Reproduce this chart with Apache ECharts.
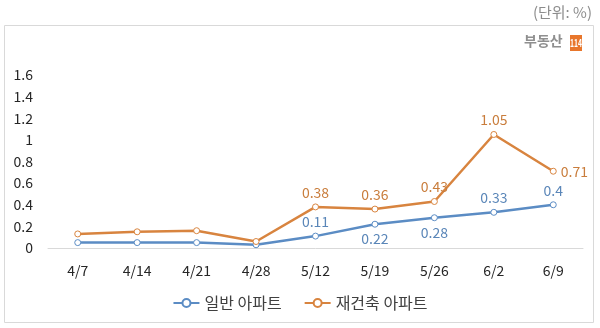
<!DOCTYPE html>
<html>
<head>
<meta charset="utf-8">
<script src="https://cdn.jsdelivr.net/npm/echarts@6/dist/echarts.min.js"></script>
<style>
  html, body { margin: 0; padding: 0; background: #fff; }
  #chart { width: 600px; height: 328px; }
</style>
</head>
<body>
<div id="chart"></div>
<script>
// Weekly apartment price change rates (%)
const weeks = ['4/7', '4/14', '4/21', '4/28', '5/12', '5/19', '5/26', '6/2', '6/9'];
const generalApt = [0.05, 0.05, 0.05, 0.03, 0.11, 0.22, 0.28, 0.33, 0.4];
const rebuildApt = [0.13, 0.15, 0.16, 0.06, 0.38, 0.36, 0.43, 1.05, 0.71];
// Only the later weeks carry a value label
const generalLabeled = [false, false, false, false, true, true, true, true, true];
const rebuildLabeled = [false, false, false, false, true, true, true, true, true];
const yTicks = { min: 0, max: 1.6, interval: 0.2 };

const FONT = '"Noto Sans CJK KR", "Noto Sans", sans-serif';
const BLUE = '#5b8cc4';
const ORANGE = '#d8843f';

function seriesData(values, labeled, side) {
  return values.map((v, i) => {
    const item = { value: v };
    if (!labeled[i]) {
      item.label = { show: false };
    } else if (side && side[i]) {
      item.label = { position: side[i] };
    }
    return item;
  });
}

// Label sides chosen so the two lines' labels stay apart
const generalSides = [null, null, null, null, 'top', 'bottom', 'bottom', 'top', 'top'];
const rebuildSides = [null, null, null, null, 'top', 'top', 'top', 'top', 'right'];

const chart = echarts.init(document.getElementById('chart'));
chart.setOption({
  animation: false,
  textStyle: { fontFamily: FONT },
  graphic: [
    { type: 'rect', shape: { x: 4.5, y: 25.5, width: 589, height: 297 },
      style: { fill: 'none', stroke: '#d9d9d9', lineWidth: 1 }, z: -1 },
    { type: 'text', right: 8, top: 5,
      style: { text: '(단위: %)', fill: '#8c8c8c', font: '15px ' + FONT } },
    { type: 'text', left: 524, top: 34,
      style: { text: '부동산', fill: '#8f8f8f', font: 'bold 14px ' + FONT } },
    { type: 'rect', shape: { x: 570, y: 35, width: 12, height: 16 },
      style: { fill: '#e8762b' } },
    { type: 'text', x: 576, y: 43, scaleX: 0.62,
      style: { text: '114', fill: '#fff', font: 'bold 11px ' + FONT,
               align: 'center', verticalAlign: 'middle' } }
  ],
  legend: {
    bottom: 12,
    left: 'center',
    itemGap: 22,
    itemWidth: 26,
    itemHeight: 10,
    textStyle: { fontSize: 16, color: '#404040', fontFamily: FONT },
    data: ['일반 아파트', '재건축 아파트']
  },
  grid: { left: 48, right: 17, top: 75, bottom: 80, containLabel: false },
  xAxis: {
    type: 'category',
    data: weeks,
    boundaryGap: true,
    axisLine: { lineStyle: { color: '#d9d9d9', width: 1 } },
    axisTick: { show: false },
    axisLabel: { color: '#262626', fontSize: 14, margin: 16, fontFamily: FONT }
  },
  yAxis: {
    type: 'value',
    min: yTicks.min,
    max: yTicks.max,
    interval: yTicks.interval,
    splitLine: { show: false },
    axisLine: { show: false },
    axisTick: { show: false },
    axisLabel: { color: '#262626', fontSize: 14, margin: 15, fontFamily: FONT }
  },
  series: [
    {
      name: '일반 아파트',
      type: 'line',
      data: seriesData(generalApt, generalLabeled, generalSides),
      color: BLUE,
      lineStyle: { width: 2.5, color: BLUE },
      symbol: 'circle',
      symbolSize: 6,
      itemStyle: { color: '#fff', borderColor: BLUE, borderWidth: 1 },
      label: { show: true, position: 'top', color: '#5a86b8', fontSize: 14, distance: 4, fontFamily: FONT }
    },
    {
      name: '재건축 아파트',
      type: 'line',
      data: seriesData(rebuildApt, rebuildLabeled, rebuildSides),
      color: ORANGE,
      lineStyle: { width: 2.5, color: ORANGE },
      symbol: 'circle',
      symbolSize: 6,
      itemStyle: { color: '#fff', borderColor: ORANGE, borderWidth: 1 },
      label: { show: true, position: 'top', color: '#c97d3c', fontSize: 14, distance: 4, fontFamily: FONT }
    }
  ]
});
</script>
</body>
</html>
